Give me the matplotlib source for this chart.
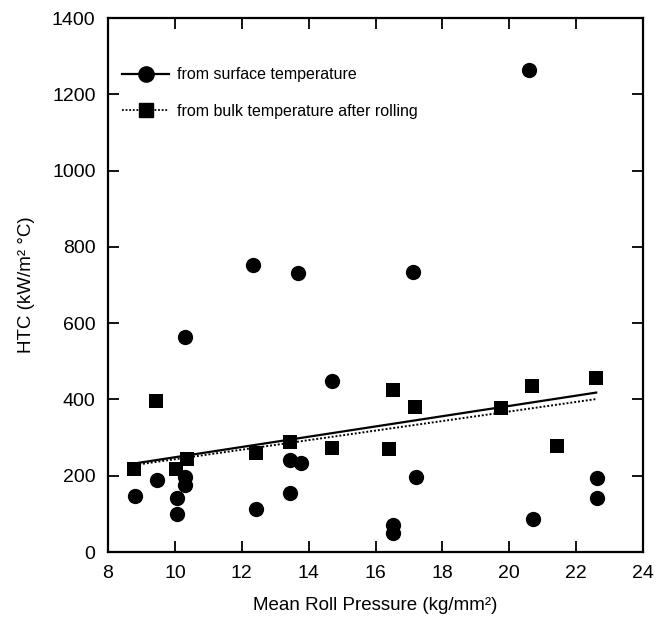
import matplotlib
matplotlib.use("Agg")
from matplotlib import pyplot as plt
from matplotlib.lines import Line2D

plt.rcParams['font.family'] = ['Liberation Sans', 'DejaVu Sans']

# HTC from surface temperature (circles)
surf_p = [8.8, 9.45, 10.07, 10.07, 10.3, 10.3, 10.3, 12.43, 12.34, 13.45, 13.45, 13.76,
          13.68, 14.69, 16.53, 16.53, 17.2, 17.12, 20.59, 20.71, 22.61, 22.61]
surf_htc = [147, 189, 141, 100, 197, 176, 564, 112, 752, 241, 155, 233,
            731, 449, 71, 49, 196, 734, 1264, 87, 193, 142]

# HTC from bulk temperature after rolling (squares)
bulk_p = [8.78, 9.44, 10.03, 10.37, 12.43, 13.44, 14.71, 16.39, 16.51, 17.18,
          19.76, 20.69, 21.43, 22.59]
bulk_htc = [217, 395, 217, 245, 259, 289, 274, 270, 425, 381,
            377, 436, 278, 457]

# linear trend lines
fit_p = [8.7, 22.6]
surf_fit = [231, 418]
bulk_fit = [227, 401]

fig = plt.figure(figsize=(6.67, 6.22), dpi=100)
ax = fig.add_axes([0.162, 0.1125, 0.802, 0.8585])

ax.plot(surf_p, surf_htc, 'o', color='black', markersize=11, markeredgewidth=0)
ax.plot(bulk_p, bulk_htc, 's', color='black', markersize=9.5, markeredgewidth=0)
ax.plot(fit_p, surf_fit, '-', color='black', lw=1.6)
ax.plot(fit_p, bulk_fit, color='black', lw=1.4, ls=(0, (1, 1)))

ax.set_xlim(8, 24)
ax.set_ylim(0, 1400)
ax.set_xticks(range(8, 25, 2))
ax.set_yticks(range(0, 1401, 200))
ax.tick_params(direction='in', length=8, width=1.3, labelsize=14,
               top=True, right=True, pad=9)
for s in ax.spines.values():
    s.set_linewidth(1.6)

ax.set_xlabel("Mean Roll Pressure (kg/mm²)", fontsize=13.5, labelpad=11)
ax.set_ylabel("HTC (kW/m² °C)", fontsize=13.5, labelpad=12)

handles = [Line2D([], [], color='black', ls='-', lw=1.6, marker='o', markersize=11),
           Line2D([], [], color='black', ls=(0, (1, 1)), lw=1.3, marker='s', markersize=10)]
ax.legend(handles, ["from surface temperature", "from bulk temperature after rolling"],
          loc='upper left', bbox_to_anchor=(0.0, 0.935), frameon=False, fontsize=11.5,
          handlelength=2.9, handletextpad=0.5, labelspacing=1.35)

fig.savefig("out.png", dpi=100)
plt.close()
